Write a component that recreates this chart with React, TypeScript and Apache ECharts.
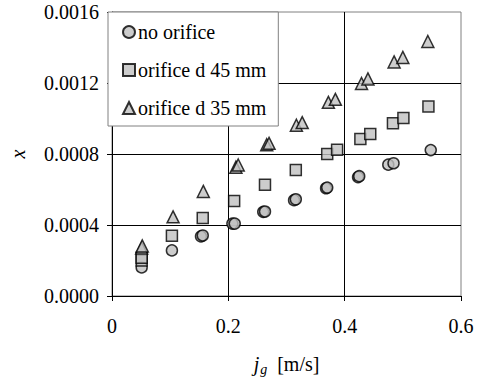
import React, { useEffect, useRef } from "react";
import * as echarts from "echarts";

const seriesNames = ["no orifice", "orifice d 45 mm", "orifice d 35 mm"];

const noOrificeX = [0.051, 0.103, 0.153, 0.156, 0.207, 0.211, 0.26, 0.263, 0.313, 0.316, 0.368, 0.37, 0.423, 0.425, 0.475, 0.484, 0.548];
const noOrificeY = [0.000161, 0.000257, 0.000336, 0.000341, 0.000408, 0.000408, 0.000474, 0.000476, 0.00054, 0.000545, 0.000607, 0.000611, 0.00067, 0.000675, 0.00074, 0.000748, 0.000822];

const d45X = [0.051, 0.051, 0.103, 0.156, 0.21, 0.263, 0.316, 0.37, 0.387, 0.427, 0.444, 0.483, 0.501, 0.544];
const d45Y = [0.0002, 0.000216, 0.00034, 0.00044, 0.000535, 0.000627, 0.00071, 0.0008, 0.000824, 0.000884, 0.000912, 0.000973, 0.001003, 0.001067];

const d35X = [0.051, 0.052, 0.105, 0.157, 0.213, 0.217, 0.266, 0.27, 0.317, 0.327, 0.372, 0.384, 0.429, 0.44, 0.485, 0.5, 0.543];
const d35Y = [0.00027, 0.000282, 0.000446, 0.000589, 0.000726, 0.000738, 0.000852, 0.00086, 0.000962, 0.000977, 0.001091, 0.001108, 0.001197, 0.001223, 0.001319, 0.001344, 0.001434];

const xTicks = { min: 0, max: 0.6, interval: 0.2 };
const yTicks = { min: 0, max: 0.0016, interval: 0.0004 };

const FONT = "Liberation Serif, Times New Roman, DejaVu Serif, serif";

function zip(xs: number[], ys: number[]) {
  return xs.map((x, i) => [x, ys[i]]);
}

export default function App() {
  const ref = useRef<HTMLDivElement>(null);
  useEffect(() => {
    if (!ref.current) return;
    const chart = echarts.init(ref.current, null, { renderer: "svg" });
    const markerStyle = { color: "#c0c0c0", borderColor: "#000", borderWidth: 1.5 };
    chart.setOption({
      animation: false,
      backgroundColor: "#fff",
      textStyle: { fontFamily: FONT },
      grid: {
        left: 105,
        right: 19,
        top: 12,
        bottom: 83,
        show: true,
        borderColor: "#808080",
        borderWidth: 1,
      },
      legend: {
        orient: "vertical",
        left: 108,
        top: 12,
        padding: [10, 12, 8, 14],
        itemGap: 18,
        itemWidth: 12,
        itemHeight: 12,
        backgroundColor: "#fff",
        borderColor: "#808080",
        borderWidth: 1,
        borderRadius: 0,
        textStyle: { fontFamily: FONT, fontSize: 20, color: "#000", padding: [0, 0, 0, -2] },
        data: [
          { name: seriesNames[0], icon: "circle" },
          { name: seriesNames[1], icon: "rect" },
          { name: seriesNames[2], icon: "triangle" },
        ],
      },
      xAxis: {
        type: "value",
        min: xTicks.min,
        max: xTicks.max,
        interval: xTicks.interval,
        axisLine: { show: true, onZero: false, lineStyle: { color: "#000", width: 1 } },
        axisTick: { show: true, inside: false, length: 5, lineStyle: { color: "#000" } },
        axisLabel: {
          fontFamily: FONT,
          fontSize: 20,
          color: "#000",
          margin: 20,
          formatter: (v: number) => (v === 0 ? "0" : v.toFixed(1)),
        },
        splitLine: { show: true, showMinLine: false, showMaxLine: false, lineStyle: { color: "#000", width: 1 } },
        name: "{i|j}{sub|g}{n|  [m/s]}",
        nameLocation: "middle",
        nameGap: 56,
        nameTextStyle: {
          fontFamily: FONT,
          fontSize: 20,
          color: "#000",
          rich: {
            i: { fontFamily: FONT, fontSize: 20, fontStyle: "italic", color: "#000" },
            sub: { fontFamily: FONT, fontSize: 14, fontStyle: "italic", color: "#000", padding: [10, 0, 0, 1] },
            n: { fontFamily: FONT, fontSize: 20, color: "#000" },
          },
        },
      },
      yAxis: {
        type: "value",
        min: yTicks.min,
        max: yTicks.max,
        interval: yTicks.interval,
        axisLine: { show: true, onZero: false, lineStyle: { color: "#000", width: 1 } },
        axisTick: { show: true, inside: false, length: 5, lineStyle: { color: "#000" } },
        axisLabel: {
          fontFamily: FONT,
          fontSize: 20,
          color: "#000",
          margin: 13,
          formatter: (v: number) => v.toFixed(4),
        },
        splitLine: { show: true, showMinLine: false, showMaxLine: false, lineStyle: { color: "#000", width: 1 } },
        name: "x",
        nameLocation: "middle",
        nameGap: 84,
        nameRotate: 90,
        nameTextStyle: { fontFamily: FONT, fontSize: 20, fontStyle: "italic", color: "#000" },
      },
      series: [
        {
          name: seriesNames[0],
          type: "scatter",
          symbol: "circle",
          symbolSize: 11,
          itemStyle: markerStyle,
          data: zip(noOrificeX, noOrificeY),
          z: 3,
        },
        {
          name: seriesNames[1],
          type: "scatter",
          symbol: "rect",
          symbolSize: 11,
          itemStyle: markerStyle,
          data: zip(d45X, d45Y),
          z: 3,
        },
        {
          name: seriesNames[2],
          type: "scatter",
          symbol: "triangle",
          symbolSize: 12,
          itemStyle: markerStyle,
          data: zip(d35X, d35Y),
          z: 3,
        },
      ],
    });
    return () => chart.dispose();
  }, []);
  return (
    <div
      ref={ref}
      style={{ position: "absolute", left: 0, top: 0, width: 480, height: 381 }}
    />
  );
}
